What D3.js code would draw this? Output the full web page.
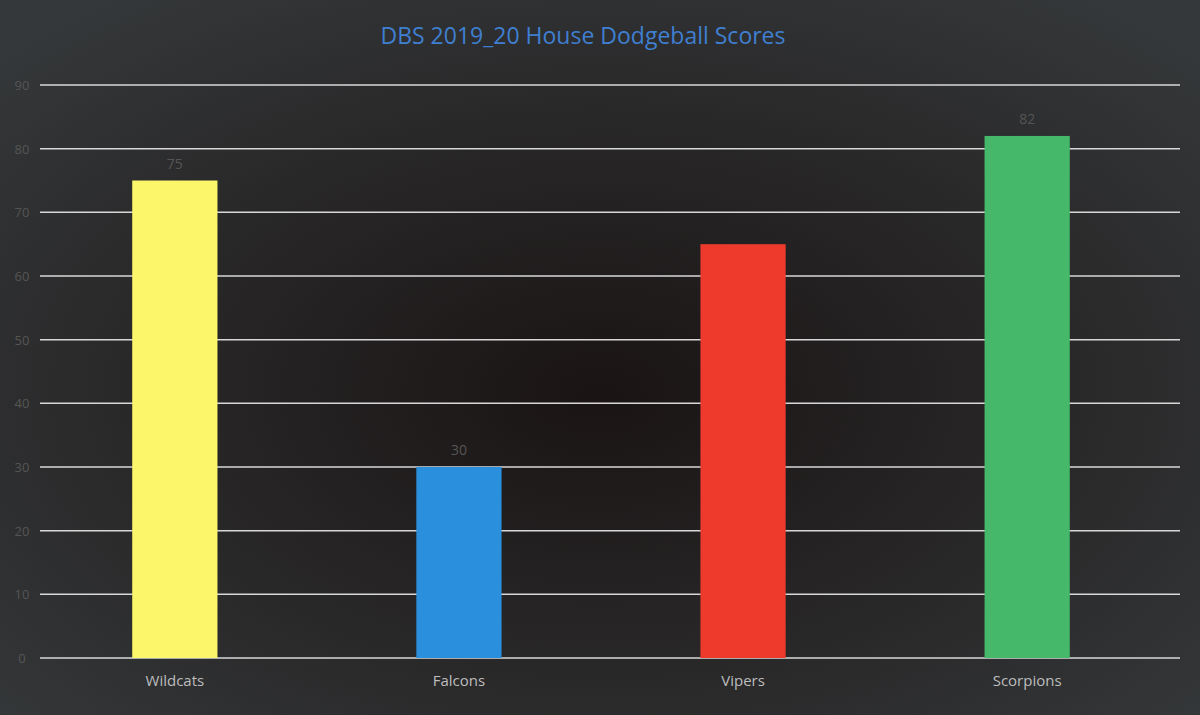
<!DOCTYPE html>
<html><head><meta charset="utf-8">
<script src="https://cdn.jsdelivr.net/npm/d3@7"></script>
<style>body{margin:0;background:#1e1f20}</style></head>
<body><svg id="chart" width="1200" height="715"></svg>
<script>
var houses = ['Wildcats', 'Falcons', 'Vipers', 'Scorpions'];
var scores = [75, 30, 65, 82];
var colors = ['#fbf66a', '#2a8fdc', '#ee3a2c', '#46b86a'];
var labels = ['75', '30', '', '82'];
var ticks = [0, 10, 20, 30, 40, 50, 60, 70, 80, 90];

var svg = d3.select('#chart');
var defs = svg.append('defs');
var g = defs.append('radialGradient').attr('id', 'bg').attr('cx', '50%').attr('cy', '55%').attr('r', '70%');
g.append('stop').attr('offset', '0%').attr('stop-color', '#1a1414');
g.append('stop').attr('offset', '100%').attr('stop-color', '#35383a');
svg.append('rect').attr('width', 1200).attr('height', 715).attr('fill', 'url(#bg)');

var m = {left: 40, right: 1180, top: 85, bottom: 658};
var x = d3.scaleBand().domain(houses).range([47, 1155]).paddingInner(0.7).paddingOuter(0.3);
var y = d3.scaleLinear().domain([0, 90]).range([m.bottom, m.top]);

svg.append('g').selectAll('line').data(ticks).enter().append('line')
    .attr('x1', m.left).attr('x2', m.right)
    .attr('y1', function(d) { return y(d); })
    .attr('y2', function(d) { return y(d); })
    .attr('stroke', '#d8d8d8').attr('stroke-width', 1.5);

svg.append('g').selectAll('text').data(ticks).enter().append('text')
    .attr('x', 22).attr('y', function(d) { return y(d) + 5; })
    .attr('text-anchor', 'middle').attr('fill', '#555').attr('font-family', 'Open Sans')
    .attr('font-size', 13).text(function(d) { return d; });

svg.append('g').selectAll('rect').data(scores).enter().append('rect')
    .attr('x', function(d, i) { return x(houses[i]); })
    .attr('width', x.bandwidth())
    .attr('y', function(d) { return y(d); })
    .attr('height', function(d) { return y(0) - y(d); })
    .attr('fill', function(d, i) { return colors[i]; });

svg.append('g').selectAll('text').data(scores).enter().append('text')
    .attr('x', function(d, i) { return x(houses[i]) + x.bandwidth() / 2; })
    .attr('y', function(d) { return y(d) - 12; })
    .attr('text-anchor', 'middle').attr('fill', '#555').attr('font-family', 'Open Sans')
    .attr('font-size', 14).text(function(d, i) { return labels[i]; });

svg.append('g').selectAll('text').data(houses).enter().append('text')
    .attr('x', function(d) { return x(d) + x.bandwidth() / 2; })
    .attr('y', m.bottom + 28)
    .attr('text-anchor', 'middle').attr('fill', '#bdbdbd').attr('font-family', 'Open Sans')
    .attr('font-size', 15).text(function(d) { return d; });

svg.append('text').attr('x', 583).attr('y', 44).attr('text-anchor', 'middle')
    .attr('fill', '#3f7fd0').attr('font-family', 'Open Sans').attr('font-size', 23)
    .text('DBS 2019_20 House Dodgeball Scores');
</script></body></html>
